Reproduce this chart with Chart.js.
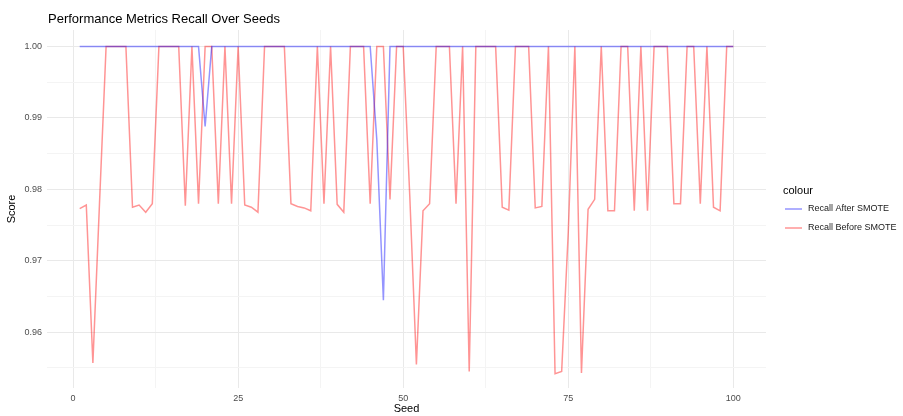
<!DOCTYPE html>
<html>
<head>
<meta charset="utf-8">
<title>Performance Metrics Recall Over Seeds</title>
<script src="https://cdn.jsdelivr.net/npm/chart.js@4.4.1/dist/chart.umd.min.js"></script>
<style>
  body { margin: 0; background: #fff; }
  canvas { display: block; }
</style>
</head>
<body>
<canvas id="recallChart" width="903" height="416"></canvas>
<script>
const chartTitle = 'Performance Metrics Recall Over Seeds';
const seriesNames = ['Recall After SMOTE', 'Recall Before SMOTE'];
const seriesColors = ['rgba(0, 0, 255, 0.42)', 'rgba(255, 0, 0, 0.42)'];

const seeds = Array.from({ length: 100 }, (_, i) => i + 1);

const recallAfter = [
  1, 1, 1, 1, 1, 1, 1, 1, 1, 1,
  1, 1, 1, 1, 1, 1, 1, 1, 1, 0.9888,
  1, 1, 1, 1, 1, 1, 1, 1, 1, 1,
  1, 1, 1, 1, 1, 1, 1, 1, 1, 1,
  1, 1, 1, 1, 1, 0.987, 0.9645, 1, 1, 1,
  1, 1, 1, 1, 1, 1, 1, 1, 1, 1,
  1, 1, 1, 1, 1, 1, 1, 1, 1, 1,
  1, 1, 1, 1, 1, 1, 1, 1, 1, 1,
  1, 1, 1, 1, 1, 1, 1, 1, 1, 1,
  1, 1, 1, 1, 1, 1, 1, 1, 1, 1,
];

const recallBefore = [
  0.9773, 0.9778, 0.9557, 0.978, 1, 1, 1, 1, 0.9775, 0.9778,
  0.9768, 0.978, 1, 1, 1, 1, 0.9777, 1, 0.978, 1,
  1, 0.978, 1, 0.978, 1, 0.9778, 0.9775, 0.9768, 1, 1,
  1, 1, 0.978, 0.9776, 0.9774, 0.977, 1, 0.978, 1, 0.9779,
  0.9768, 1, 1, 1, 0.978, 1, 1, 0.9786, 1, 1,
  0.979, 0.9555, 0.977, 0.978, 1, 1, 1, 0.978, 1, 0.9545,
  1, 1, 1, 1, 0.9775, 0.9771, 1, 1, 1, 0.9774,
  0.9776, 1, 0.9542, 0.9545, 0.974, 1, 0.9543, 0.9772, 0.9786, 1,
  0.977, 0.977, 1, 1, 0.977, 1, 0.977, 1, 1, 1,
  0.978, 0.978, 1, 1, 0.978, 1, 0.9775, 0.977, 1, 1,
];

// major + minor grid positions (ggplot style)
const xTicks = [0, 12.5, 25, 37.5, 50, 62.5, 75, 87.5, 100];
const yTicks = [0.955, 0.96, 0.965, 0.97, 0.975, 0.98, 0.985, 0.99, 0.995, 1.0];

const FONT = '"Liberation Sans", Arial, sans-serif';

const isMajorX = (v) => Math.abs(v % 25) < 1e-9;
const isMajorY = (v) => Math.abs(v * 100 - Math.round(v * 100)) < 1e-6;

const toPoints = (values) => seeds.map((s, i) => ({ x: s, y: values[i] }));

const titleAndLegend = {
  id: 'titleAndLegend',
  afterDraw(chart) {
    const { ctx, chartArea } = chart;
    ctx.save();
    ctx.textBaseline = 'middle';
    ctx.fillStyle = '#000';
    ctx.font = '13px ' + FONT;
    ctx.fillText(chartTitle, chartArea.left + 1, 19);

    ctx.font = '11px ' + FONT;
    ctx.fillText('colour', 783, 191);

    ctx.font = '9px ' + FONT;
    [209, 228].forEach((y, i) => {
      ctx.strokeStyle = seriesColors[i];
      ctx.lineWidth = 1.5;
      ctx.beginPath();
      ctx.moveTo(785, y);
      ctx.lineTo(802, y);
      ctx.stroke();
      ctx.fillStyle = '#1a1a1a';
      ctx.fillText(seriesNames[i], 808, y);
    });
    ctx.restore();
  },
};

new Chart(document.getElementById('recallChart').getContext('2d'), {
  type: 'line',
  data: {
    datasets: [
      {
        label: seriesNames[0],
        data: toPoints(recallAfter),
        borderColor: seriesColors[0],
        borderWidth: 1.5,
        pointRadius: 0,
        tension: 0,
        fill: false,
      },
      {
        label: seriesNames[1],
        data: toPoints(recallBefore),
        borderColor: seriesColors[1],
        borderWidth: 1.5,
        pointRadius: 0,
        tension: 0,
        fill: false,
      },
    ],
  },
  options: {
    responsive: false,
    animation: false,
    devicePixelRatio: 1,
    layout: {
      padding: { left: 0, right: 137, top: 30, bottom: 0 },
    },
    plugins: {
      legend: { display: false },
      title: { display: false },
      tooltip: { enabled: false },
    },
    scales: {
      x: {
        type: 'linear',
        min: -3.95,
        max: 104.95,
        afterBuildTicks: (scale) => {
          scale.ticks = xTicks.map((v) => ({ value: v }));
        },
        afterFit: (scale) => {
          scale.height = 28;
        },
        border: { display: false },
        grid: {
          drawTicks: false,
          color: (ctx) => (isMajorX(ctx.tick.value) ? '#e9e9e9' : '#f4f4f4'),
          lineWidth: 1,
        },
        ticks: {
          padding: 5,
          autoSkip: false,
          maxRotation: 0,
          color: '#4d4d4d',
          font: { family: FONT, size: 9 },
          callback: (v) => (isMajorX(v) ? String(v) : ''),
        },
        title: {
          display: true,
          text: 'Seed',
          color: '#000',
          font: { family: FONT, size: 11 },
          padding: { top: 0, bottom: 0 },
        },
      },
      y: {
        type: 'linear',
        min: 0.9522,
        max: 1.0023,
        afterBuildTicks: (scale) => {
          scale.ticks = yTicks.map((v) => ({ value: v }));
        },
        afterFit: (scale) => {
          scale.width = 47;
        },
        border: { display: false },
        grid: {
          drawTicks: false,
          color: (ctx) => (isMajorY(ctx.tick.value) ? '#e9e9e9' : '#f4f4f4'),
          lineWidth: 1,
        },
        ticks: {
          padding: 5,
          autoSkip: false,
          color: '#4d4d4d',
          font: { family: FONT, size: 9 },
          callback: (v) => (isMajorY(v) ? v.toFixed(2) : ''),
        },
        title: {
          display: true,
          text: 'Score',
          color: '#000',
          font: { family: FONT, size: 11 },
          padding: { top: 5, bottom: 0 },
        },
      },
    },
  },
  plugins: [titleAndLegend],
});
</script>
</body>
</html>
